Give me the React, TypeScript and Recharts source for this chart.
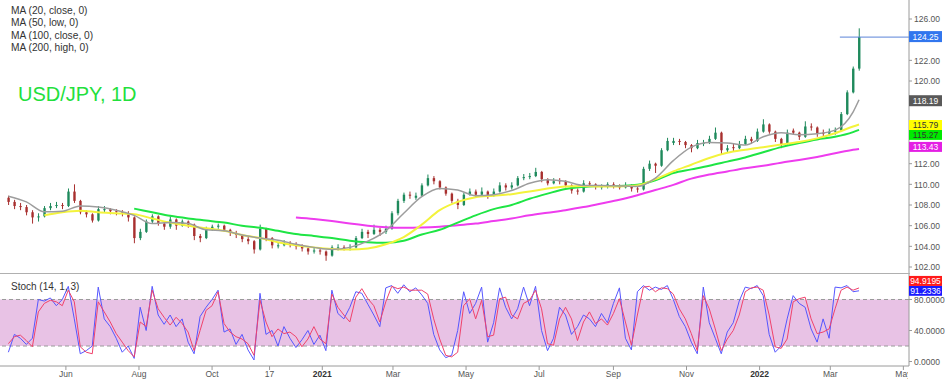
import React from 'react';
import { ComposedChart, Bar, Line, XAxis, YAxis, ReferenceArea, ReferenceLine } from 'recharts';

// ---- categories (days since 2020-06-01) ----
const candleStartDay = -48;
const candleStepDays = 5;
const maEveryNthCandle = 3;
const xDomain: [number, number] = [-55, 703.7];
const xTickDays = [0, 61, 122, 170, 214, 273, 334, 395, 457, 518, 579, 638, 699];
const xTickLabels = ['Jun', 'Aug', 'Oct', '17', '2021', 'Mar', 'May', 'Jul', 'Sep', 'Nov', '2022', 'Mar', 'May'];
const yearLabels = ['2021', '2022'];

// ---- USD/JPY daily candles (open, high, low, close) ----
const ohlc: [number, number, number, number][] = [
  [108.7, 108.9, 108.0, 108.3], [108.3, 108.5, 107.6, 107.9], [107.9, 108.2, 107.5, 107.8], [107.8, 108.0, 107.0, 107.3],
  [107.3, 107.5, 106.2, 106.8], [106.8, 107.2, 106.4, 106.9], [106.9, 107.9, 106.8, 107.7], [107.7, 108.2, 107.5, 107.9],
  [107.9, 108.3, 107.7, 108.0], [108.0, 108.2, 107.6, 107.9], [107.9, 109.6, 107.8, 109.3], [109.3, 110.0, 108.2, 108.4],
  [108.4, 108.5, 107.1, 107.3], [107.3, 107.5, 106.8, 107.1], [107.1, 107.2, 106.3, 106.5], [106.5, 107.9, 106.4, 107.6],
  [107.5, 107.9, 107.3, 107.6], [107.6, 107.7, 107.1, 107.4], [107.4, 107.6, 107.0, 107.3], [107.3, 107.5, 106.9, 107.2],
  [107.2, 107.4, 106.4, 106.8], [106.8, 106.9, 104.3, 104.8], [104.8, 105.7, 104.6, 105.4], [105.4, 106.6, 105.3, 106.4],
  [106.4, 107.1, 106.2, 106.9], [106.9, 107.0, 106.0, 106.2], [106.2, 106.4, 105.6, 105.9], [105.9, 106.9, 105.7, 106.6],
  [106.6, 106.7, 105.6, 106.0], [106.0, 106.6, 105.9, 106.4], [106.4, 106.5, 105.8, 106.1], [106.1, 106.2, 104.6, 105.0],
  [105.0, 105.2, 104.4, 104.8], [104.8, 105.9, 104.7, 105.7], [105.7, 106.1, 105.5, 105.9], [105.9, 106.2, 105.7, 106.0],
  [106.0, 106.1, 105.4, 105.6], [105.6, 105.7, 105.0, 105.3], [105.3, 105.5, 104.8, 105.1], [105.1, 105.2, 104.4, 104.7],
  [104.7, 104.9, 104.2, 104.5], [104.5, 104.6, 103.3, 103.7], [103.7, 106.1, 103.6, 105.7], [105.7, 105.8, 104.5, 104.8],
  [104.8, 104.9, 103.8, 104.1], [104.0, 104.4, 103.8, 104.1], [104.1, 104.6, 104.0, 104.3], [104.3, 104.5, 103.9, 104.2],
  [104.2, 104.4, 103.7, 104.0], [104.0, 104.2, 103.5, 103.8], [103.8, 103.9, 103.2, 103.5], [103.5, 103.9, 103.3, 103.6],
  [103.6, 103.8, 103.2, 103.5], [103.5, 103.6, 102.6, 103.1], [103.1, 104.1, 103.0, 103.9], [103.8, 104.2, 103.6, 103.9],
  [103.9, 104.1, 103.6, 103.8], [103.8, 104.2, 103.6, 103.9], [103.9, 105.0, 103.8, 104.8], [104.8, 105.7, 104.7, 105.4],
  [105.4, 105.6, 104.8, 105.2], [105.2, 106.1, 105.1, 105.6], [105.6, 105.8, 105.0, 105.4], [105.4, 106.0, 105.2, 105.7],
  [105.7, 107.4, 105.6, 107.2], [107.2, 108.6, 107.0, 108.4], [108.4, 109.2, 108.2, 109.0], [109.0, 109.3, 108.6, 108.9],
  [108.7, 109.2, 108.5, 108.9], [108.9, 110.1, 108.8, 109.9], [109.9, 110.95, 109.8, 110.6], [110.6, 110.8, 110.0, 110.3],
  [110.3, 110.4, 109.5, 109.7], [109.7, 109.8, 108.9, 109.1], [109.1, 109.2, 108.2, 108.4], [108.4, 108.6, 107.6, 108.0],
  [108.0, 109.2, 107.9, 109.0], [109.0, 109.6, 108.9, 109.3], [109.3, 109.5, 108.8, 109.0], [109.0, 109.7, 108.9, 109.3],
  [109.3, 109.4, 108.6, 108.9], [108.9, 109.6, 108.8, 109.3], [109.3, 110.2, 109.2, 109.9], [109.9, 110.1, 109.4, 109.7],
  [109.7, 110.2, 109.5, 109.9], [109.9, 110.8, 109.8, 110.6], [110.6, 111.0, 110.4, 110.7], [110.7, 111.1, 110.5, 110.8],
  [110.8, 111.6, 110.7, 111.2], [111.2, 111.3, 110.2, 110.5], [110.5, 110.6, 109.9, 110.1], [110.1, 110.6, 110.0, 110.3],
  [110.4, 110.6, 110.0, 110.3], [110.3, 110.4, 109.7, 109.9], [109.9, 110.0, 109.1, 109.4], [109.4, 109.6, 109.0, 109.3],
  [109.3, 110.4, 109.2, 110.1], [110.1, 110.3, 109.8, 110.0], [110.0, 110.1, 109.5, 109.8], [109.7, 110.0, 109.5, 109.8],
  [109.8, 110.2, 109.6, 110.0], [110.0, 110.2, 109.6, 109.8], [109.8, 110.0, 109.5, 109.7], [109.7, 110.2, 109.6, 109.9],
  [109.9, 110.0, 109.3, 109.6], [109.6, 109.8, 109.2, 109.5], [109.5, 111.7, 109.4, 111.5], [111.5, 112.3, 111.3, 112.0],
  [112.0, 112.1, 111.1, 111.8], [111.8, 113.5, 111.7, 113.3], [113.3, 114.5, 113.2, 114.2], [114.0, 114.5, 113.8, 114.2],
  [114.2, 114.4, 113.8, 114.1], [114.1, 114.2, 113.5, 113.8], [113.8, 113.9, 113.1, 113.5], [113.5, 114.3, 113.4, 114.0],
  [113.9, 114.3, 113.7, 114.0], [114.0, 114.7, 113.9, 114.4], [114.4, 115.5, 114.3, 115.0], [115.0, 115.1, 112.9, 113.3],
  [113.3, 113.8, 113.1, 113.5], [113.6, 113.9, 113.2, 113.5], [113.5, 114.2, 113.4, 113.9], [113.9, 114.7, 113.8, 114.4],
  [114.4, 114.6, 113.9, 114.2], [114.2, 115.4, 114.1, 115.1], [115.1, 116.3, 115.0, 115.8], [115.8, 115.9, 114.9, 115.1],
  [115.1, 115.2, 114.1, 114.4], [114.4, 114.5, 113.5, 113.9], [113.9, 115.3, 113.8, 115.0], [115.2, 115.4, 114.8, 115.0],
  [115.0, 115.1, 114.3, 114.6], [114.6, 116.1, 114.5, 115.6], [115.6, 115.9, 115.2, 115.5], [115.5, 115.6, 114.6, 114.9],
  [115.0, 115.3, 114.6, 114.9], [114.9, 115.4, 114.7, 115.1], [115.1, 115.5, 114.8, 115.2], [115.2, 117.0, 115.1, 116.8],
  [116.8, 119.1, 116.7, 118.9], [118.9, 121.4, 118.8, 121.2], [121.2, 125.1, 121.0, 124.25],
];

// ---- moving averages (one value every 3rd candle, last value on the last candle) ----
const ma20 = [108.85, 108.3, 107.35, 107.4, 107.9, 107.8, 107.5, 107.0, 106.2, 106.3, 106.2, 105.6, 105.5, 105.1, 104.8, 104.6,
  104.2, 103.9, 103.7, 103.9, 104.5, 105.5, 107.2, 108.8, 109.6, 109.45, 108.9, 109.0, 109.4, 110.1, 110.45, 110.3,
  109.9, 109.9, 109.85, 109.8, 110.6, 112.3, 113.6, 114.05, 114.0, 113.8, 114.6, 115.0, 114.8, 114.9, 115.25, 117.0, 118.19];
const ma50 = [null, null, 107.0, 107.3, 107.45, 107.3, 107.2, 107.1, 106.7, 106.3, 106.0, 105.75, 105.5, 105.1, 104.8, 104.4,
  104.1, 103.9, 103.75, 103.7, 103.8, 104.2, 104.9, 106.1, 107.5, 108.3, 108.75, 108.9, 109.05, 109.3, 109.6, 109.8,
  109.85, 109.8, 109.8, 109.9, 110.5, 111.25, 111.9, 112.55, 113.05, 113.35, 113.6, 113.85, 114.1, 114.45, 114.95, 115.6, 115.79];
const ma100 = [null, null, null, null, null, null, null, 107.65, 107.3, 106.95, 106.7, 106.5, 106.3, 106.0, 105.8, 105.5,
  105.2, 105.0, 104.8, 104.55, 104.4, 104.35, 104.55, 105.15, 105.6, 106.3, 107.0, 107.6, 108.0, 108.6, 109.1, 109.55,
  109.75, 109.85, 109.85, 109.95, 110.4, 111.1, 111.45, 111.8, 112.2, 112.6, 113.1, 113.6, 114.0, 114.35, 114.6, 115.05, 115.27];
const ma200 = [null, null, null, null, null, null, null, null, null, null, null, null, null, null, null, null,
  106.8, 106.65, 106.45, 106.2, 106.0, 105.85, 105.8, 105.82, 105.9, 106.05, 106.2, 106.45, 106.7, 107.0, 107.25, 107.5,
  107.8, 108.15, 108.5, 108.95, 109.45, 109.95, 110.55, 110.95, 111.25, 111.55, 111.8, 112.1, 112.35, 112.65, 113.0, 113.35, 113.43];

// ---- Stochastic (14, 1, 3) ----
const stochK = [12, 35, 30, 22, 30, 80, 78, 82, 72, 80, 97, 55, 10, 14, 20, 96, 55, 45, 30, 12,
  20, 4, 70, 40, 97, 60, 48, 60, 45, 55, 25, 10, 58, 70, 80, 92, 38, 42, 22, 35,
  15, 2, 88, 35, 40, 20, 45, 30, 18, 28, 40, 22, 34, 14, 92, 62, 55, 70, 90, 88,
  74, 60, 45, 95, 98, 88, 99, 90, 95, 86, 75, 35, 15, 5, 8, 40, 90, 62, 75, 96,
  25, 50, 95, 70, 55, 68, 96, 72, 97, 40, 14, 30, 70, 60, 35, 45, 60, 55, 45, 62,
  50, 75, 95, 30, 15, 90, 98, 92, 96, 93, 98, 80, 58, 45, 25, 10, 96, 50, 30, 10,
  38, 50, 78, 96, 94, 98, 85, 35, 12, 20, 55, 85, 75, 70, 42, 25, 55, 30, 96, 95,
  98, 90, 91.2336];
const stochD = [23, 32, 34, 27, 19, 64, 75, 79, 77, 72, 92, 77, 19, 12, 10, 77, 64, 51, 36, 25,
  14, 6, 51, 45, 92, 68, 57, 47, 57, 49, 38, 14, 40, 66, 72, 90, 49, 38, 32, 29,
  23, 8, 79, 51, 32, 42, 36, 38, 32, 19, 29, 45, 29, 23, 87, 70, 60, 51, 83, 94,
  81, 72, 51, 77, 97, 94, 96, 92, 92, 92, 87, 55, 29, 8, 6, 12, 72, 81, 55, 79,
  32, 34, 81, 83, 60, 55, 75, 79, 92, 68, 23, 21, 55, 70, 55, 27, 51, 64, 49, 55,
  47, 62, 81, 51, 21, 60, 96, 97, 90, 95, 94, 87, 68, 55, 36, 14, 85, 68, 42, 14,
  29, 40, 60, 90, 95, 96, 92, 60, 19, 17, 29, 77, 81, 83, 55, 36, 38, 42, 68, 92,
  96, 92, 94.9195];

const priceTicks = [102, 104, 106, 108, 110, 112, 120, 122, 126];
const stochTicks = [0, 40, 80];
const stochBand = [20, 80];
const priceLineStartDay = 646;
const maLegend = ['MA (20, close, 0)', 'MA (50, low, 0)', 'MA (100, close, 0)', 'MA (200, high, 0)'];
const title = 'USD/JPY, 1D';
const stochTitle = 'Stoch (14, 1, 3)';

// ---- styles ----
const FONT = 'Liberation Sans, Arial, Helvetica, sans-serif';
const UP = '#1f8a5c';
const DOWN = '#a8302f';
const C20 = '#9d9d9d';
const C50 = '#f3f33c';
const C100 = '#1ee544';
const C200 = '#ee3cee';
const AXIS = '#9a9a9a';

// ---- derived data ----
const lastClose = ohlc[ohlc.length - 1][3];
const maIndexOf = (k: number, n: number) => (k === n - 1 ? ohlc.length - 1 : k * maEveryNthCandle);
const maAt = (arr: (number | null)[], i: number) => {
  const n = arr.length;
  for (let k = 0; k < n; k++) if (maIndexOf(k, n) === i) return arr[k];
  return null;
};
const candleData = ohlc.map(([o, h, l, c], i) => ({
  d: candleStartDay + i * candleStepDays,
  o, h, l, c,
  range: [l, h],
  m20: maAt(ma20, i),
  m50: maAt(ma50, i),
  m100: maAt(ma100, i),
  m200: maAt(ma200, i),
}));
const stochData = stochK.map((k, i) => ({ d: candleStartDay + i * candleStepDays, k, dd: stochD[i] }));

const lastOf = (a: (number | null)[]) => a[a.length - 1] as number;
const priceTags = [
  { value: lastClose, bg: '#3176ee', fg: '#ffffff', dy: -0.5, h: 11 },
  { value: lastOf(ma20), bg: '#595959', fg: '#ffffff', dy: 1, h: 11 },
  { value: lastOf(ma50), bg: '#ffff00', fg: '#333333', dy: 0.5, h: 10 },
  { value: lastOf(ma100), bg: '#00ea00', fg: '#333333', dy: 5, h: 10 },
  { value: lastOf(ma200), bg: '#e41ee4', fg: '#ffffff', dy: -2, h: 10 },
];
const stochTags = [
  { value: lastOf(stochD), bg: '#ff1a1a', fg: '#ffffff', dy: -7, h: 10 },
  { value: lastOf(stochK), bg: '#1a1aff', fg: '#ffffff', dy: 0, h: 10 },
];

const Candle = (props: any) => {
  const { x, y, width, height, payload } = props;
  if (!payload || x == null) return null;
  const top = height < 0 ? y + height : y;
  const hh = Math.abs(height);
  const { o, h, l, c } = payload;
  const span = h - l || 1;
  const yO = top + ((h - o) / span) * hh;
  const yC = top + ((h - c) / span) * hh;
  const color = c >= o ? UP : DOWN;
  const bTop = Math.min(yO, yC);
  const bH = Math.max(1, Math.abs(yO - yC));
  const cx = x + width / 2;
  return (
    <g>
      <line x1={cx} x2={cx} y1={top} y2={top + hh} stroke={color} strokeWidth={1} />
      <rect x={x} y={bTop} width={width} height={bH} fill={color} />
    </g>
  );
};

type Tag = { value: number; bg: string; fg: string; dy: number; h: number };
const makeTagTick = (tags: Tag[], digits: number) => (props: any) => {
  const { x, y, payload } = props;
  const v = payload.value;
  const tag = tags.find((t) => Math.abs(t.value - v) < 1e-9);
  if (tag) {
    const cy = y + tag.dy;
    return (
      <g>
        <rect x={x - 5} y={cy - tag.h / 2} width={33} height={tag.h} fill={tag.bg} />
        <text x={x - 5 + 16.5} y={cy} dy={3.2} textAnchor="middle" fontSize={8.5} fontFamily={FONT} fill={tag.fg}>
          {v.toFixed(digits)}
        </text>
      </g>
    );
  }
  return (
    <text x={x} y={y} dy={3.2} textAnchor="start" fontSize={8.5} fontFamily={FONT} fill="#555">
      {v.toFixed(digits)}
    </text>
  );
};
const PriceTick = makeTagTick(priceTags, 2);
const StochTick = makeTagTick(stochTags, 4);

const DateTick = (props: any) => {
  const { x, y, payload, index } = props;
  const label = xTickLabels[index] ?? String(payload.value);
  const bold = yearLabels.includes(label);
  return (
    <g>
      <defs>
        <clipPath id={`xclip-${index}`}>
          <rect x={0} y={0} width={908} height={400} />
        </clipPath>
      </defs>
      <text x={x} y={y} dy={5} textAnchor="middle" fontSize={8.5} fontFamily={FONT} fontWeight={bold ? 'bold' : 'normal'}
        fill={bold ? '#333' : '#555'} clipPath={`url(#xclip-${index})`}>
        {label}
      </text>
    </g>
  );
};

export default function App() {
  return (
    <div style={{ position: 'absolute', left: 0, top: 0, width: 950, height: 382, background: '#fff', fontFamily: FONT, overflow: 'hidden' }}>
      <div style={{ position: 'absolute', left: 0, top: 0 }}>
        <ComposedChart width={950} height={273} data={candleData} margin={{ top: 0, right: 0, bottom: 0, left: 0 }}>
          <XAxis dataKey="d" type="number" domain={xDomain} allowDataOverflow hide />
          <YAxis orientation="right" width={41} domain={[101.42, 127.84]} allowDataOverflow
            ticks={[...priceTicks, ...priceTags.map((t) => t.value).sort((a, b) => a - b)]} interval={0}
            tick={PriceTick} tickSize={3} axisLine={{ stroke: AXIS }} tickLine={{ stroke: AXIS }} />
          <Bar dataKey="range" barSize={2.4} shape={(p: any) => <Candle {...p} />} isAnimationActive={false} />
          <Line dataKey="m200" connectNulls type="monotone" stroke={C200} strokeWidth={2} dot={false} activeDot={false} isAnimationActive={false} />
          <Line dataKey="m100" connectNulls type="monotone" stroke={C100} strokeWidth={2} dot={false} activeDot={false} isAnimationActive={false} />
          <Line dataKey="m50" connectNulls type="monotone" stroke={C50} strokeWidth={2} dot={false} activeDot={false} isAnimationActive={false} />
          <Line dataKey="m20" connectNulls type="monotone" stroke={C20} strokeWidth={1.5} dot={false} activeDot={false} isAnimationActive={false} />
          <ReferenceLine segment={[{ x: priceLineStartDay, y: lastClose }, { x: xDomain[1], y: lastClose }]} stroke="#5b84d8" strokeWidth={1} />
        </ComposedChart>
      </div>
      <div style={{ position: 'absolute', left: 0, top: 273, width: 910, height: 1, background: '#b0b0b0' }} />
      <div style={{ position: 'absolute', left: 0, top: 274 }}>
        <ComposedChart width={950} height={108} data={stochData} margin={{ top: 0, right: 0, bottom: 0, left: 0 }}>
          <XAxis dataKey="d" type="number" domain={xDomain} allowDataOverflow ticks={xTickDays} interval={0}
            tick={DateTick} height={16} tickSize={4} axisLine={{ stroke: AXIS }} tickLine={{ stroke: AXIS }} />
          <YAxis orientation="right" width={41} domain={[-5.8, 112.9]} allowDataOverflow
            ticks={[...stochTicks, ...stochTags.map((t) => t.value).sort((a, b) => a - b)]} interval={0}
            tick={StochTick} tickSize={3} axisLine={{ stroke: AXIS }} tickLine={{ stroke: AXIS }} />
          <ReferenceArea y1={stochBand[0]} y2={stochBand[1]} fill="#e8c2e5" fillOpacity={1} stroke="none" />
          <ReferenceLine y={stochBand[1]} stroke="#9a9a9a" strokeDasharray="4 3" />
          <ReferenceLine y={stochBand[0]} stroke="#9a9a9a" strokeDasharray="4 3" />
          <Line dataKey="k" type="linear" stroke="#5656ff" strokeWidth={1} dot={false} activeDot={false} isAnimationActive={false} />
          <Line dataKey="dd" type="linear" stroke="#f0426c" strokeWidth={1} dot={false} activeDot={false} isAnimationActive={false} />
        </ComposedChart>
      </div>
      {maLegend.map((t, i) => (
        <div key={t} style={{ position: 'absolute', left: 11, top: 5 + i * 12.3, fontSize: 10.2, lineHeight: '12px', color: '#333', whiteSpace: 'nowrap' }}>{t}</div>
      ))}
      <div style={{ position: 'absolute', left: 18, top: 82, fontSize: 20, lineHeight: '24px', color: '#22e03c', whiteSpace: 'nowrap' }}>{title}</div>
      <div style={{ position: 'absolute', left: 11, top: 281, fontSize: 10, lineHeight: '12px', color: '#333', whiteSpace: 'nowrap' }}>{stochTitle}</div>
    </div>
  );
}
